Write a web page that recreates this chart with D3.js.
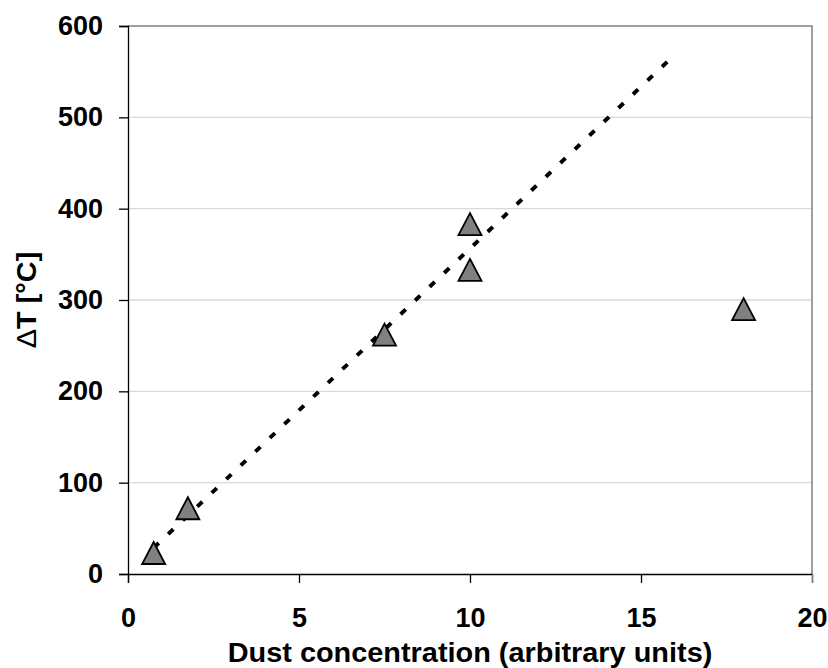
<!doctype html>
<html>
<head>
<script src="https://cdn.jsdelivr.net/npm/d3@7/dist/d3.min.js"></script>
<style>
  body { margin: 0; background: #fff; }
  svg { display: block; font-family: "Liberation Sans", Arial, sans-serif; font-weight: bold; }
</style>
</head>
<body>
<svg width="828" height="668"></svg>
<script>
// measured points (dust concentration vs temperature rise)
var dustConc = [0.75, 1.75, 7.5, 10, 10, 18];
var deltaT   = [23, 72, 262, 383, 333, 290];

// dotted trendline end points
var trendX = [0.75, 16];
var trendY = [28.6, 569];

var xTicks = [0, 5, 10, 15, 20];
var yTicks = [0, 100, 200, 300, 400, 500, 600];

var svg = d3.select("svg");
var x = d3.scaleLinear().domain([0, 20]).range([128, 812]);
var y = d3.scaleLinear().domain([0, 600]).range([574, 26]);

// grid
svg.append("g").selectAll("line")
  .data(yTicks.slice(1, -1))
  .enter().append("line")
  .attr("x1", x(0)).attr("x2", x(20))
  .attr("y1", d => y(d)).attr("y2", d => y(d))
  .style("stroke", "#d9d9d9").style("stroke-width", 1.3);

// top and right frame (grey)
svg.append("path")
  .attr("d", `M${x(0)},${y(600)}H${x(20)}V${y(0)}`)
  .style("fill", "none").style("stroke", "#808080").style("stroke-width", 1.5);

// axes
var yAxis = d3.axisLeft(y).tickValues(yTicks).tickSize(9).tickPadding(16).tickFormat(d3.format("d"));
var xAxis = d3.axisBottom(x).tickValues(xTicks).tickSize(9).tickPadding(25).tickFormat(d3.format("d"));

var gy = svg.append("g").attr("transform", `translate(${x(0)},0)`).call(yAxis);
var gx = svg.append("g").attr("transform", `translate(0,${y(0)})`).call(xAxis);

[gx, gy].forEach(function(g) {
  g.select(".domain").style("stroke", "#000").style("stroke-width", 1.3);
  g.selectAll(".tick line").style("stroke", "#000").style("stroke-width", 1.3);
  g.selectAll(".tick text")
    .style("font-size", "27px").style("font-weight", "bold")
    .style("font-family", "'Liberation Sans', Arial, sans-serif")
    .attr("fill", "#000");
});
gx.selectAll(".tick text").attr("dy", "0.71em");
gx.selectAll(".tick line").filter(d => d === 20).style("stroke", "#808080");

// trendline
svg.append("line")
  .attr("x1", x(trendX[0])).attr("y1", y(trendY[0]))
  .attr("x2", x(trendX[1])).attr("y2", y(trendY[1]))
  .style("stroke", "#000").style("stroke-width", 4)
  .style("stroke-dasharray", "7,13");

// triangle markers
var tri = function(d, i) {
  var cx = x(d), cy = y(deltaT[i]);
  return `M${cx},${cy - 11}L${cx + 11.5},${cy + 11}L${cx - 11.5},${cy + 11}Z`;
};
svg.append("g").selectAll("path")
  .data(dustConc)
  .enter().append("path")
  .attr("d", tri)
  .style("fill", "#808080").style("stroke", "#000").style("stroke-width", 1.8)
  .style("stroke-linejoin", "miter");

// axis titles
svg.append("text")
  .attr("transform", `translate(${(x(0) + x(20)) / 2},662) scale(1.07,1)`)
  .attr("text-anchor", "middle")
  .style("font-size", "27px")
  .text("Dust concentration (arbitrary units)");

var yt = svg.append("text")
  .attr("transform", `translate(36,${(y(0) + y(600)) / 2}) rotate(-90) scale(1.07,1)`)
  .attr("text-anchor", "middle")
  .style("font-size", "27px");
yt.append("tspan").style("font-weight", "normal").text("\u0394");
yt.append("tspan").text("T [\u00b0C]");
</script>
</body>
</html>
